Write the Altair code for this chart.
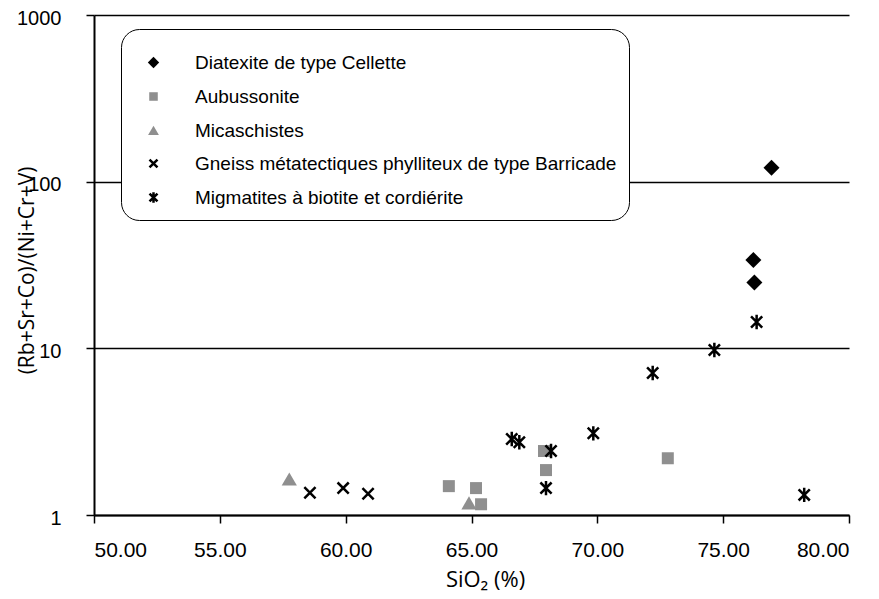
import altair as alt
import pandas as pd

groups = [
    "Diatexite de type Cellette",
    "Aubussonite",
    "Micaschistes",
    "Gneiss métatectiques phylliteux de type Barricade",
    "Migmatites à biotite et cordiérite",
]

diat_x = [76.92, 76.20, 76.24]
diat_y = [121, 33.9, 24.8]
aub_x = [64.10, 65.18, 65.38, 67.88, 67.96, 72.80]
aub_y = [1.49, 1.45, 1.16, 2.42, 1.86, 2.19]
mica_x = [57.76, 64.90]
mica_y = [1.64, 1.18]
gneiss_x = [58.58, 59.90, 60.89]
gneiss_y = [1.36, 1.45, 1.34]
migm_x = [66.60, 66.90, 68.16, 67.96, 69.84, 72.20, 74.65, 76.33, 78.22]
migm_y = [2.86, 2.73, 2.42, 1.45, 3.09, 7.11, 9.77, 14.4, 1.32]

x_ticks = [50, 55, 60, 65, 70, 75, 80]
y_ticks = [1, 10, 100, 1000]

rows = []
for g, xs, ys in zip(groups,
                     [diat_x, aub_x, mica_x, gneiss_x, migm_x],
                     [diat_y, aub_y, mica_y, gneiss_y, migm_y]):
    for a, b in zip(xs, ys):
        rows.append({"group": g, "SiO2": a, "ratio": b})
df = pd.DataFrame(rows)

shapes = [
    "M0,-1L1,0L0,1L-1,0Z",
    "M-0.75,-0.75L0.75,-0.75L0.75,0.75L-0.75,0.75Z",
    "M0,-0.85L0.95,0.8L-0.95,0.8Z",
    "M-0.7,-0.7L0.7,0.7M-0.7,0.7L0.7,-0.7",
    "M-0.7,-0.7L0.7,0.7M-0.7,0.7L0.7,-0.7M0,-0.9L0,0.9",
]
gray = "#8f8f8f"
fills = ["black", gray, gray, "transparent", "transparent"]
strokes = ["transparent", "transparent", "transparent", "black", "black"]

legend = alt.Legend(
    title=" ",
    titleFontSize=8,
    titlePadding=4,
    orient="none",
    legendX=27,
    legendY=14,
    strokeColor="black",
    fillColor="white",
    cornerRadius=18,
    padding=12,
    symbolOffset=11,
    labelFont="Liberation Sans",
    labelFontSize=19,
    labelColor="black",
    labelLimit=600,
    labelOffset=32,
    symbolSize=130,
    symbolStrokeWidth=2.5,
    rowPadding=13,
)

points = alt.Chart(df).mark_point(size=256, strokeWidth=2.5, opacity=1).encode(
    x=alt.X("SiO2:Q",
            scale=alt.Scale(domain=[50, 80], nice=False, zero=False),
            axis=alt.Axis(values=x_ticks, format=".2f", title="SiO₂ (%)",
                          grid=False, domainColor="black", domainWidth=2,
                          tickColor="black", tickWidth=1.5, tickSize=8,
                          labelFont="Liberation Sans", labelFontSize=21,
                          labelColor="black", labelPadding=16,
                          titleFont="Open Sans", titleFontSize=22,
                          titleFontWeight="normal", titleColor="black",
                          titleX=391, titleY=71, titleAlign="center",
                          titleBaseline="alphabetic")),
    y=alt.Y("ratio:Q",
            scale=alt.Scale(type="log", domain=[1, 1000], nice=False),
            axis=alt.Axis(values=y_ticks, format="d",
                          title="(Rb+Sr+Co)/(Ni+Cr+V)",
                          grid=True, gridColor="black", gridWidth=1.5,
                          domainColor="black", domainWidth=2,
                          tickColor="black", tickWidth=1.5, tickSize=8,
                          labelFont="Liberation Sans", labelFontSize=20,
                          labelColor="black", labelPadding=25,
                          labelOffset=3,
                          titleFont="Open Sans", titleFontSize=21,
                          titleFontWeight="normal", titleColor="black",
                          titleX=-67, titleY=255, titleAngle=-90,
                          titleAlign="center", titleBaseline="middle")),
    shape=alt.Shape("group:N", scale=alt.Scale(domain=groups, range=shapes),
                    legend=legend),
    fill=alt.Fill("group:N", scale=alt.Scale(domain=groups, range=fills),
                  legend=legend),
    stroke=alt.Stroke("group:N", scale=alt.Scale(domain=groups, range=strokes),
                      legend=legend),
)

chart = points.properties(
    width=755,
    height=500,
    autosize=alt.AutoSizeParams(type="none"),
    padding={"left": 86, "top": 7, "right": 20, "bottom": 76},
).configure_view(stroke=None).configure_axis(labelFontWeight="normal")

chart.save("out.html", embed_options={"renderer": "svg", "actions": False})
